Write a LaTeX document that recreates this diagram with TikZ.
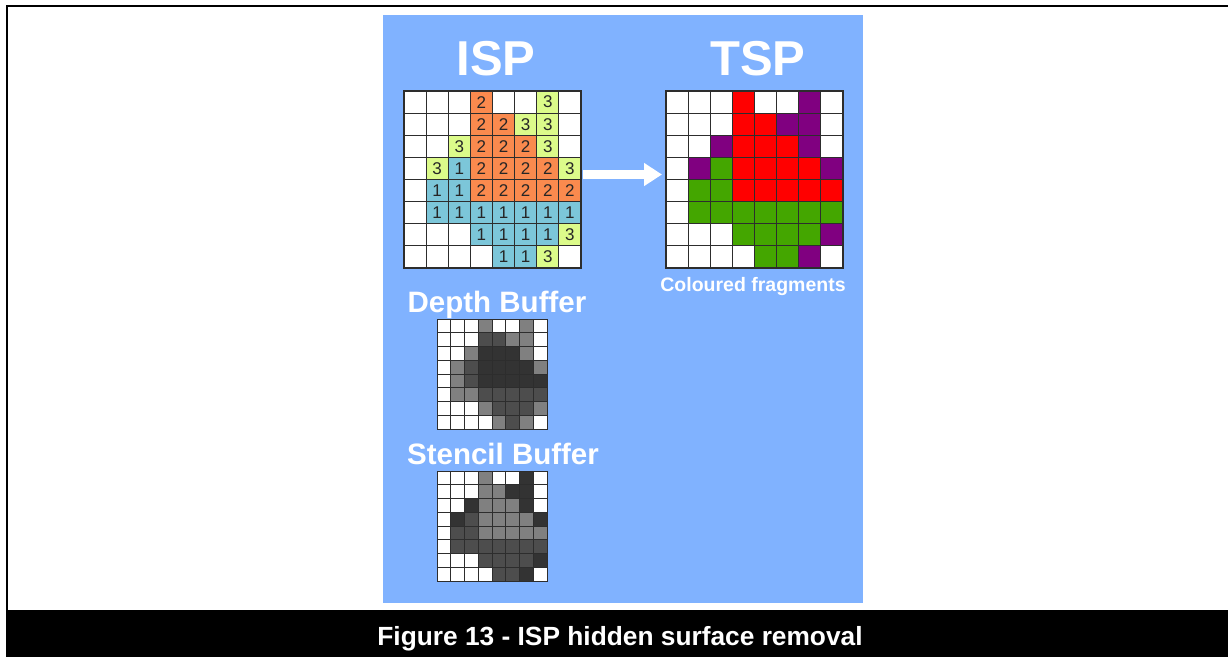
\documentclass[tikz,border=0pt]{standalone}
\usepackage{fontspec}
\setmainfont{Liberation Sans}
\usetikzlibrary{arrows.meta}

% panel and frame colours
\definecolor{panel}{RGB}{128,178,255}
\definecolor{gridline}{RGB}{45,45,45}
% ISP tags: 0 empty, 1/2/3 object id
\colorlet{isp0}{white}
\definecolor{isp1}{RGB}{124,198,217}
\definecolor{isp2}{RGB}{250,138,78}
\definecolor{isp3}{RGB}{220,251,138}
% TSP shaded fragments
\colorlet{tsp0}{white}
\definecolor{tsp1}{RGB}{68,166,0}
\definecolor{tsp2}{RGB}{255,0,0}
\definecolor{tsp3}{RGB}{128,0,128}
% stencil values
\colorlet{stc0}{white}
\definecolor{stc1}{RGB}{77,77,77}
\definecolor{stc2}{RGB}{128,128,128}
\definecolor{stc3}{RGB}{51,51,51}
% depth values
\colorlet{dep0}{white}
\definecolor{dep1}{RGB}{128,128,128}
\definecolor{dep2}{RGB}{77,77,77}
\definecolor{dep3}{RGB}{51,51,51}

% object id per pixel
\newcommand\tagdata{{0,0,0,2,0,0,3,0},{0,0,0,2,2,3,3,0},{0,0,3,2,2,2,3,0},{0,3,1,2,2,2,2,3},{0,1,1,2,2,2,2,2},{0,1,1,1,1,1,1,1},{0,0,0,1,1,1,1,3},{0,0,0,0,1,1,3,0}}
% depth shade per pixel
\newcommand\depthdata{{0,0,0,1,0,0,1,0},{0,0,0,2,2,1,1,0},{0,0,1,3,3,3,1,0},{0,1,2,3,3,3,3,1},{0,1,2,3,3,3,3,3},{0,1,1,2,2,2,2,2},{0,0,0,1,2,2,2,1},{0,0,0,0,1,2,1,0}}

\begin{document}
\begin{tikzpicture}[x=1pt,y=-1pt,
  cell/.style={draw=gridline, line width=1.1pt, inner sep=0pt, outer sep=0pt},
  bigcell/.style={cell, minimum size=22.125pt, text=black!85,
    font=\fontsize{17}{17}\selectfont},
  smallcell/.style={cell, line width=0.8pt, minimum size=13.75pt},
  gridbox/.style={inner sep=0pt, outer sep=0pt, anchor=north west},
  title/.style={text=white, font=\bfseries\fontsize{49}{52}\selectfont, anchor=base},
  label/.style={text=white, font=\bfseries\fontsize{29.5}{32}\selectfont, anchor=base}]

\useasboundingbox (0,0) rectangle (1228,657);
\fill[white] (0,0) rectangle (1228,657);

% figure frame and caption bar
\draw[line width=2pt] (7,610) -- (7,6) -- (1228,6);
\node[fill=black, gridbox, minimum width=1222pt, minimum height=47pt] (bar) at (6,610) {};
\node[anchor=base, text=white, font=\bfseries\fontsize{26.3}{30}\selectfont]
  (caption) at (620,645) {Figure 13 - ISP hidden surface removal};

% blue panel
\node[fill=panel, gridbox, minimum width=480pt, minimum height=588pt] (panel) at (383,15) {};

% headings
\node[title] (isptitle) at (496,75) {ISP};
\node[title] (tsptitle) at (758,75) {TSP};
\node[label] (depthlabel) at (497,312) {Depth Buffer};
\node[label] (stencillabel) at (503,464) {Stencil Buffer};
\node[text=white, font=\bfseries\fontsize{19.5}{22}\selectfont, anchor=base]
  (fraglabel) at (753,291) {Coloured fragments};

% grid outlines
\node[gridbox, minimum size=177pt] (ispgrid) at (404,91) {};
\node[gridbox, minimum size=177pt] (tspgrid) at (666,91) {};
\node[gridbox, minimum size=110pt] (depthgrid) at (437,319) {};
\node[gridbox, minimum size=110pt] (stencilgrid) at (437,471) {};

% ISP tag buffer, TSP fragments and stencil buffer share the same tags
\foreach \row [count=\ri from 0] in \tagdata {
  \foreach \v [count=\ci from 0] in \row {
    \node[bigcell, fill=isp\v] (isp-\ri-\ci)
      at ({404+22.125*(\ci+0.5)},{91+22.125*(\ri+0.5)}) {\ifnum\v>0 \v\fi};
    \node[bigcell, fill=tsp\v] (tsp-\ri-\ci)
      at ({666+22.125*(\ci+0.5)},{91+22.125*(\ri+0.5)}) {};
    \node[smallcell, fill=stc\v] (stc-\ri-\ci)
      at ({437+13.75*(\ci+0.5)},{471+13.75*(\ri+0.5)}) {};
  }
}

% depth buffer
\foreach \row [count=\ri from 0] in \depthdata {
  \foreach \v [count=\ci from 0] in \row {
    \node[smallcell, fill=dep\v] (dep-\ri-\ci)
      at ({437+13.75*(\ci+0.5)},{319+13.75*(\ri+0.5)}) {};
  }
}

% ISP to TSP
\draw[white, line width=9pt, -{Triangle[length=18pt,width=22pt]}]
  ([shift={(2,-5)}]ispgrid.east) -- ([shift={(-4,-5)}]tspgrid.west);
\end{tikzpicture}
\end{document}
